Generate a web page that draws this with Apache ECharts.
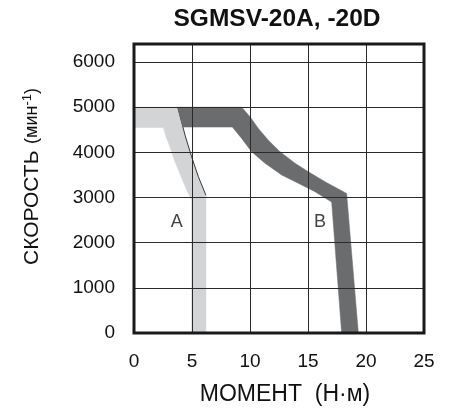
<!DOCTYPE html>
<html>
<head>
<meta charset="utf-8">
<script src="https://cdn.jsdelivr.net/npm/echarts@6/dist/echarts.min.js"></script>
<style>
  html, body { margin: 0; padding: 0; background: #fff; }
  #chart { width: 460px; height: 411px; }
</style>
</head>
<body>
<div id="chart"></div>
<script>
// torque (Н·м) / speed (мин-1) outlines
var zoneA = [
  [0, 5000], [3.77, 5000], [4.1, 4680], [4.4, 4380], [4.97, 3900], [5.55, 3460], [6.2, 3050],
  [6.2, 0], [4.97, 0], [4.97, 2950], [4.6, 3130], [4.11, 3430], [3.53, 3790],
  [3.05, 4160], [2.75, 4350], [2.53, 4550], [0, 4550]
];
var zoneAEdge = [[3.77, 5000], [4.1, 4680], [4.4, 4380], [4.97, 3900], [5.55, 3460], [6.2, 3050]];
var zoneB = [
  [3.77, 5000], [9.28, 5000], [10.0, 4790], [10.72, 4530], [11.58, 4270], [12.59, 4015],
  [13.88, 3760], [15.03, 3570], [16.47, 3350], [18.33, 3090], [19.34, 0], [17.9, 0],
  [17.04, 2900], [15.6, 3130], [14.16, 3315], [12.73, 3500], [11.29, 3760], [10.14, 4015],
  [9.28, 4310], [8.48, 4560], [4.23, 4560], [4.1, 4680]
];
var zoneLabels = ['A', 'B'];
var zoneLabelPos = [[3.68, 2465], [16.03, 2465]];

var chart = echarts.init(document.getElementById('chart'));

function zone(points, fill, edge, edgeColor) {
  return {
    type: 'custom',
    coordinateSystem: 'cartesian2d',
    data: points,
    encode: { x: 0, y: 1 },
    silent: true,
    z: 2,
    renderItem: function (params, api) {
      if (params.dataIndex !== 0) return;
      var children = [{
        type: 'polygon',
        shape: { points: points.map(function (p) { return api.coord(p); }) },
        style: { fill: fill, stroke: fill, lineWidth: 0.5 }
      }];
      if (edge) {
        children.push({
          type: 'polyline',
          shape: { points: edge.map(function (p) { return api.coord(p); }) },
          style: { fill: null, stroke: edgeColor, lineWidth: 1 }
        });
      }
      return { type: 'group', children: children };
    }
  };
}

var font = '"Liberation Sans", Arial, sans-serif';

chart.setOption({
  animation: false,
  title: {
    text: 'SGMSV-20A, -20D',
    left: 272,
    top: 2,
    textAlign: 'center',
    textStyle: { fontFamily: font, fontSize: 24.5, fontWeight: 'bold', color: '#111' }
  },
  grid: {
    left: 134, right: 36, top: 44, bottom: 78,
    show: true, z: 10,
    backgroundColor: 'transparent',
    borderColor: '#1a1a1a', borderWidth: 3
  },
  xAxis: {
    type: 'value', min: 0, max: 25, interval: 5, z: 5,
    name: 'МОМЕНТ  (Н·м)',
    nameLocation: 'middle',
    nameGap: 50,
    nameTextStyle: { fontFamily: font, fontSize: 23, color: '#111', padding: [0, 0, 0, 12] },
    axisLine: { show: false },
    axisTick: { show: false },
    axisLabel: { fontFamily: font, fontSize: 19, color: '#111', margin: 19 },
    splitLine: { show: true, lineStyle: { color: '#2a2a2a', width: 1 } }
  },
  yAxis: {
    type: 'value', min: 0, max: 6400, interval: 1000, z: 5,
    name: '{a|СКОРОСТЬ}  {b|(мин}{s|-1}{b|)}',
    nameLocation: 'middle',
    nameGap: 91,
    nameRotate: 90,
    nameTextStyle: {
      padding: [0, 0, 0, 24],
      rich: {
        a: { fontFamily: font, fontSize: 21, color: '#111' },
        b: { fontFamily: font, fontSize: 18, color: '#111' },
        s: { fontFamily: font, fontSize: 13, color: '#111', verticalAlign: 'top', padding: [0, 0, 9, 0] }
      }
    },
    axisLine: { show: false },
    axisTick: { show: false },
    axisLabel: {
      fontFamily: font, fontSize: 19, color: '#111', margin: 19,
      formatter: function (v) { return v % 1000 === 0 ? String(v) : ''; }
    },
    splitLine: { show: true, lineStyle: { color: '#2a2a2a', width: 1 } }
  },
  series: [
    zone(zoneA, '#d3d4d6', zoneAEdge, '#3a3a3a'),
    zone(zoneB, '#6b6c6e', null, null),
    {
      type: 'scatter',
      z: 6,
      symbolSize: 1,
      itemStyle: { color: 'transparent' },
      data: zoneLabelPos.map(function (p, i) { return { value: p, name: zoneLabels[i] }; }),
      label: {
        show: true, position: 'inside', formatter: '{b}',
        fontFamily: font, fontSize: 18, color: '#111'
      }
    }
  ]
});
</script>
</body>
</html>
